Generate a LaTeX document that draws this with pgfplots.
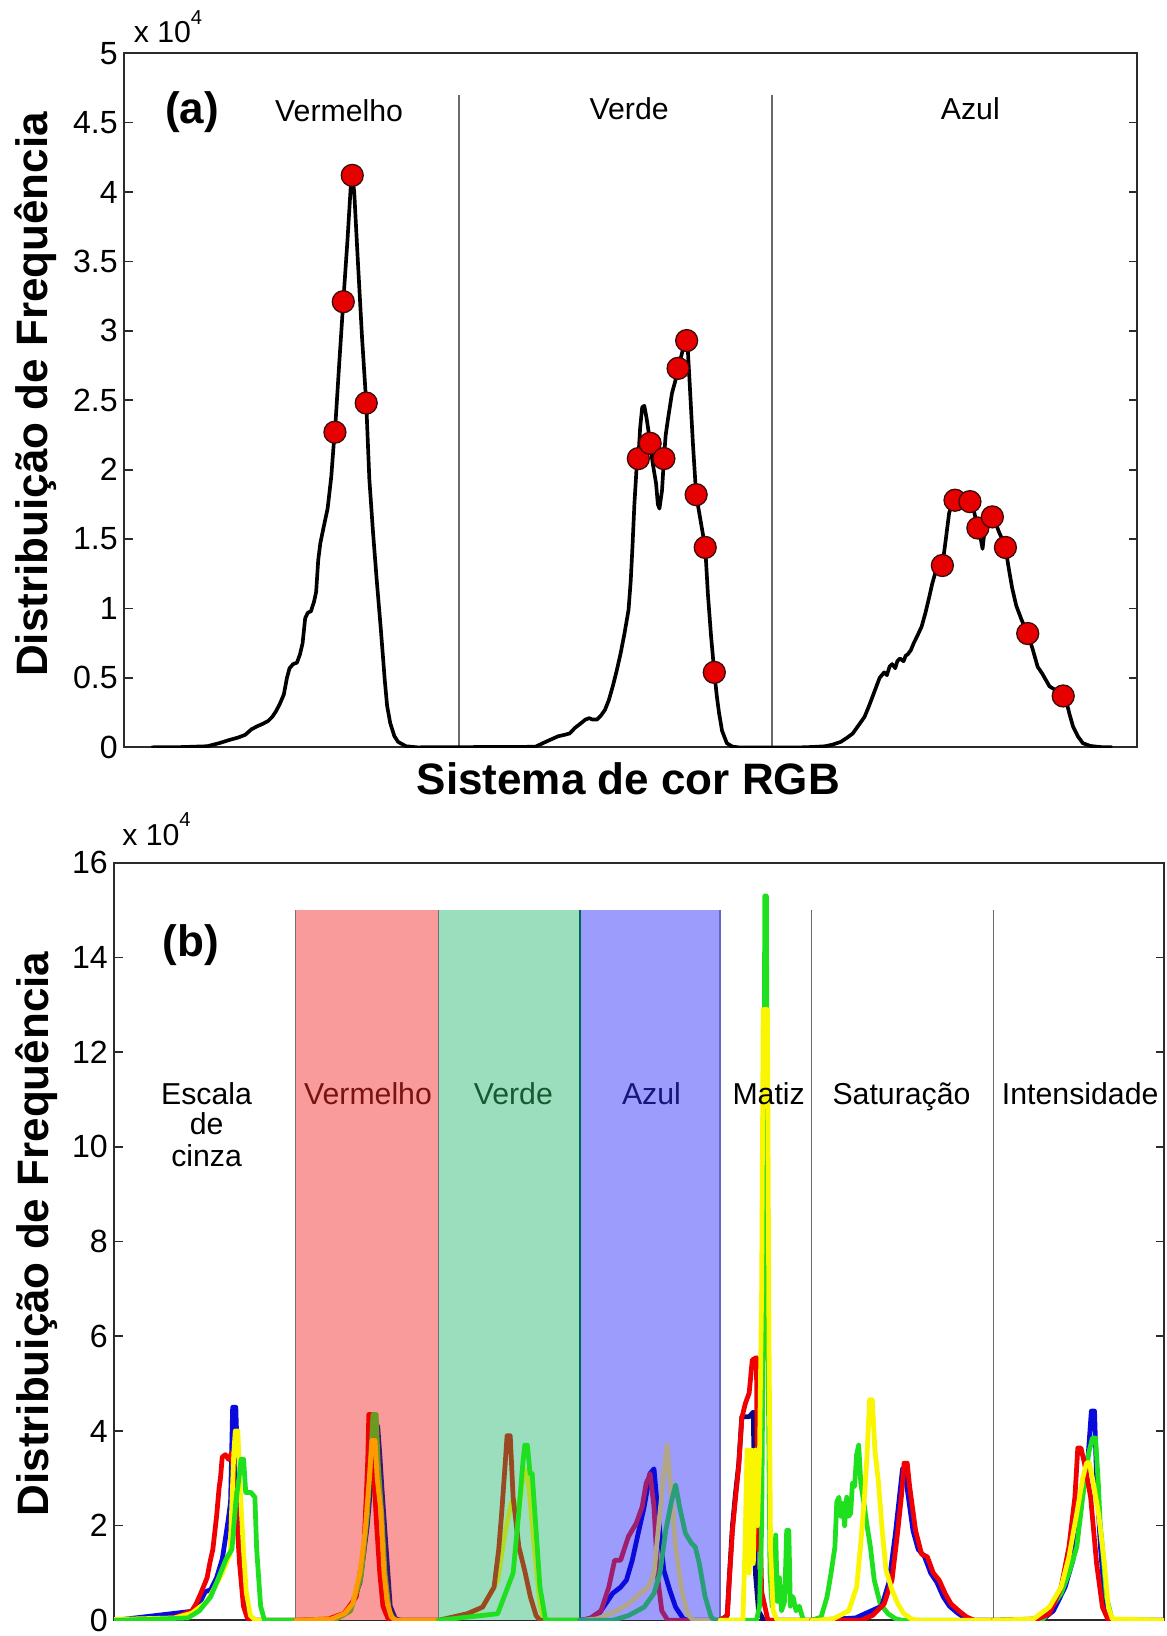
\documentclass[border=0pt]{standalone}
\usepackage{pgfplots}
\pgfplotsset{compat=1.18}
\usepackage{fontspec}
\setmainfont{Liberation Sans}
\definecolor{axcol}{HTML}{2B2B2B}
\definecolor{divcol}{HTML}{6A6A6A}
\definecolor{mkred}{HTML}{E60000}
\definecolor{mkedge}{HTML}{3A0A0A}
\definecolor{bandR}{HTML}{F99B9B}
\definecolor{bandG}{HTML}{9BDEBE}
\definecolor{bandB}{HTML}{9C9CFC}
\definecolor{cR}{HTML}{F00000}
\definecolor{cB}{HTML}{0A0ADC}
\definecolor{cNv}{HTML}{0A0A80}
\definecolor{cG}{HTML}{1EE01E}
\definecolor{cY}{HTML}{FAF500}
\definecolor{cO}{HTML}{FF9A00}
\definecolor{cOl}{HTML}{6B9A23}
\definecolor{cPu}{HTML}{3C1478}
\definecolor{cBr}{HTML}{9A4A22}
\definecolor{cYG}{HTML}{B0DC28}
\definecolor{cMa}{HTML}{A01E6E}
\definecolor{cTan}{HTML}{B2A68A}
\definecolor{cTe}{HTML}{2A9E78}
\definecolor{tR}{HTML}{7A1212}
\definecolor{tG}{HTML}{145A32}
\definecolor{tB}{HTML}{15157A}
\pgfplotsset{
  myaxis/.style={
    scale only axis, anchor=south west,
    axis line style={draw=axcol, line width=1.1pt},
    tick style={draw=axcol, line width=0.9pt},
    major tick length=0.16cm,
    tick align=inside,
    xtick=\empty,
    yticklabel style={font=\fontsize{17.5}{20}\selectfont, text=black, inner ysep=0pt},
    scaled y ticks=false,
  },
  hist/.style={line width=2.6pt, line join=round, line cap=round},
}
\begin{document}
\begin{tikzpicture}
\path[use as bounding box] (0,0) rectangle (22.36cm,31.36cm);
% ---------------- Panel (a)
\begin{axis}[myaxis,
  at={(2.38cm,17.034cm)}, width=19.42cm, height=13.306cm,
  xmin=119, xmax=1090, ymin=0, ymax=5,
  ytick={0,0.5,1,1.5,2,2.5,3,3.5,4,4.5,5},
  yticklabels={0,0.5,1,1.5,2,2.5,3,3.5,4,4.5,5},
  xlabel={Sistema de cor RGB},
  xlabel style={at={(axis description cs:0.4976,-0.068)}, anchor=base, font=\fontsize{24}{28}\selectfont\bfseries},
  ylabel={Distribuição de Frequência},
  ylabel style={at={(axis description cs:-0.0752,0.5085)}, anchor=base, font=\fontsize{24}{28}\selectfont\bfseries},
]
\addplot[divcol, line width=0.85pt] coordinates {(440,0) (440,4.7)};
\addplot[divcol, line width=0.85pt] coordinates {(740,0) (740,4.7)};
\addplot[black, line width=2pt, line join=round] coordinates {
(145,0) (175,0.002) (198.6,0.008) (210,0.03) (220.6,0.055) (228,0.07) (235,0.09) (241,0.13) (246,0.15) (252,0.17) (257,0.19) (261,0.22) (264.5,0.26) (268,0.31) (272,0.38) (275,0.5) (277.5,0.57) (281,0.6) (284.6,0.61) (287.5,0.67) (290,0.75) (292.5,0.93) (295,0.97) (298,0.98) (301,1.05) (303,1.12) (305,1.35) (307,1.47) (310,1.58) (314,1.72) (317.5,1.95) (320,2.2) (321,2.27) (325,2.75) (329,3.21) (333,3.65) (336,4.02) (337.6,4.12) (339.5,4.0) (343,3.5) (347,2.95) (351,2.48) (354,1.93) (357.5,1.55) (361,1.21) (365,0.85) (368.7,0.49) (371,0.3) (374,0.175) (378,0.08) (381.5,0.04) (389,0.008) (400,0) (513,0.004)
(524,0.043) (535,0.08) (541,0.09) (546,0.1) (551,0.14) (557,0.175) (561,0.2) (564.7,0.21) (568,0.2) (572.2,0.2) (576,0.23) (579.8,0.27) (583.5,0.34) (587.3,0.44) (591,0.55) (594.9,0.68) (598.5,0.82) (602.4,0.99) (604.5,1.2) (606.2,1.45) (608,1.75) (610,2.0) (611.8,2.08) (613.5,2.3) (615.5,2.45) (617.5,2.46) (619.5,2.38) (621.5,2.28) (623.1,2.19) (625.5,2.05) (628.8,1.9) (630.5,1.75) (632,1.72) (634.5,1.85) (636.3,2.08) (638,2.25) (640.1,2.36) (644,2.55) (647.6,2.65) (649.9,2.73) (654,2.85) (656.5,2.95) (658.5,2.96) (660.8,2.65) (664,2.2) (667.2,1.82) (671.5,1.63) (675.9,1.44) (678.5,1.1) (681.5,0.8) (684.6,0.54) (687,0.37) (689.1,0.25) (692,0.12) (696.6,0.03) (702,0.005) (708,0) (768.3,0)
(780,0.003) (790.9,0.008) (798,0.02) (806,0.04) (812,0.07) (817.3,0.1) (823,0.16) (828.6,0.22) (833,0.3) (838,0.4) (843,0.5) (847.4,0.54) (850,0.52) (852.5,0.58) (855,0.6) (858,0.57) (860,0.62) (862.5,0.64) (866,0.62) (868,0.66) (870,0.67) (873,0.7) (875.7,0.75) (879,0.8) (883.3,0.87) (887,0.97) (890.8,1.09) (893.5,1.18) (896.5,1.26) (900,1.29) (903.2,1.31) (906.5,1.5) (909.7,1.69) (912.5,1.75) (915.3,1.78) (919,1.8) (924,1.8) (929.6,1.77) (933.5,1.7) (937.2,1.58) (940,1.5) (941.7,1.43) (943,1.52) (946,1.6) (951.1,1.66) (954,1.62) (957.5,1.55) (960.5,1.5) (963.6,1.44) (967,1.28) (970,1.15) (974,1.02) (979,0.92) (985,0.82) (990,0.7) (994.5,0.58) (999,0.53) (1002,0.49) (1005.8,0.44) (1010,0.42) (1014,0.4) (1019,0.37) (1022,0.33) (1025,0.24) (1028.4,0.15) (1033,0.08) (1037.8,0.03) (1045,0.01) (1054.8,0.002) (1066,0)};
\addplot[only marks, mark=*, mark size=6pt, mark options={fill=mkred, draw=mkedge, line width=0.7pt}] coordinates {
(321,2.27) (329,3.21) (337.6,4.12) (351,2.48)
(611.8,2.08) (623.1,2.19) (636.3,2.08) (649.9,2.73) (658.1,2.93) (667.2,1.82) (675.9,1.44) (684.6,0.54)
(903.2,1.31) (915.3,1.78) (929.6,1.77) (937.2,1.58) (951.1,1.66) (963.6,1.44) (985,0.82) (1019,0.37)};
\end{axis}
% ---------------- Panel (b)
\begin{axis}[myaxis,
  at={(2.19cm,0.3cm)}, width=20.124cm, height=14.52cm,
  xmin=109.5, xmax=1115.7, ymin=0, ymax=16,
  ytick={0,2,4,6,8,10,12,14,16},
  yticklabels={0,2,4,6,8,10,12,14,16},
  ylabel={Distribuição de Frequência},
  ylabel style={at={(axis description cs:-0.0631,0.51)}, anchor=base, font=\fontsize{24}{28}\selectfont\bfseries},
]
\addplot[fill=bandR, draw=none] coordinates {(283.3,0) (283.3,15) (420.2,15) (420.2,0)} -- cycle;
\addplot[fill=bandG, draw=none] coordinates {(420.2,0) (420.2,15) (556,15) (556,0)} -- cycle;
\addplot[fill=bandB, draw=none] coordinates {(556,0) (556,15) (690,15) (690,0)} -- cycle;
\addplot[black!55, line width=0.85pt] coordinates {(283.3,0) (283.3,15)};
\addplot[black!55, line width=0.85pt] coordinates {(420.2,0) (420.2,15)};
\addplot[black!45!blue!60!green, line width=0.85pt] coordinates {(556,0) (556,15)};
\addplot[black!40!blue!60, line width=0.85pt] coordinates {(690,0) (690,15)};
\addplot[divcol, line width=0.85pt] coordinates {(777.8,0) (777.8,15)};
\addplot[divcol, line width=0.85pt] coordinates {(952.1,0) (952.1,15)};
% region 1: Escala de cinza
\addplot[hist, cB] coordinates {(110,0) (187.5,0.2) (196.6,0.6) (202,0.65) (207.6,0.9) (213.1,1.3) (218.6,2.1) (221,2.5) (223,4.5) (226,4.5) (228,3.0) (231.5,1.0) (235,0.5) (238.8,0.1) (242.5,0) (283,0)};
\addplot[hist, cR] coordinates {(110,0) (165.5,0.05) (175,0.12) (183.8,0.2) (188,0.35) (193,0.6) (198.5,0.9) (201,1.2) (204,1.5) (207.6,2.2) (210,2.8) (211.3,3.0) (213,3.45) (216,3.5) (219,3.4) (222.3,3.55) (224,3.0) (226,2.5) (229.6,1.2) (233.3,0.3) (237,0.05) (240.6,0) (283,0)};
\addplot[hist, cY] coordinates {(110,0.02) (167,0.05) (183.8,0.15) (198.5,0.4) (205.8,0.7) (213,1.0) (220.5,1.4) (222.3,2.5) (224,3.5) (225.5,4.0) (228,4.0) (229.6,3.0) (233.3,1.5) (236,0.6) (240,0.1) (245,0) (283,0)};
\addplot[hist, cG] coordinates {(110,0) (180,0.05) (191,0.2) (202,0.5) (209.5,0.9) (216.8,1.3) (222.3,1.5) (226,2.5) (229,3.0) (231,3.4) (233.5,3.4) (235.5,2.7) (240.6,2.7) (244.3,2.6) (246,1.5) (249.8,0.3) (253.5,0) (283,0)};
% region 2: Vermelho
\addplot[hist, cPu] coordinates {(283.3,0) (320,0.02) (335,0.2) (345,0.8) (352,2.0) (356,3.0) (359,4.1) (362,4.1) (364,3.5) (366,2.8) (370,1.55) (374,0.3) (379,0.03) (385,0) (420,0)};
\addplot[hist, cR] coordinates {(283.3,0) (315,0.03) (330,0.15) (341.5,0.5) (345,1.0) (348.5,1.4) (351,2.6) (352.5,3.4) (353.5,4.35) (356.5,4.35) (358.5,3.0) (361,2.0) (364,1.0) (367,0.3) (372,0.03) (378,0) (420,0)};
\addplot[hist, cOl] coordinates {(283.3,0) (322,0.02) (336,0.2) (346,0.9) (352,2.2) (355.5,3.5) (357.5,4.35) (360.5,4.35) (362.5,3.3) (366,2.2) (369,1.0) (373,0.2) (378,0) (420,0)};
\addplot[hist, cO] coordinates {(283.3,0) (318,0.03) (330.5,0.15) (338,0.35) (345,1.0) (350,1.9) (354,3.0) (356.5,3.8) (359.5,3.8) (361.5,3.0) (365,2.3) (368,1.0) (371,0.4) (375,0.07) (380,0) (420,0)};
% region 3: Verde
\addplot[hist, cYG] coordinates {(420.2,0) (444,0.07) (462.5,0.28) (477,0.85) (484.5,1.9) (490,2.5) (493.6,2.3) (499,2.6) (502,3.2) (505,3.1) (507,2.8) (512,1.55) (517.5,0.35) (521,0) (556,0)};
\addplot[hist, cBr] coordinates {(420.2,0) (447.8,0.14) (462.5,0.28) (473.5,0.7) (478,1.5) (480.8,2.26) (484,3.25) (486,3.9) (489,3.9) (491.8,2.6) (497.3,1.55) (502.8,1.06) (508.3,0.5) (513.8,0.1) (517.5,0) (556,0)};
\addplot[hist, cG] coordinates {(420.2,0) (477,0.14) (491.8,1.0) (497.3,2.3) (501,3.3) (503,3.7) (505.5,3.7) (508,3.1) (510,3.1) (513.8,1.9) (517.5,0.7) (523,0) (556,0)};
% region 4: Azul
\addplot[hist, cB] coordinates {(556,0) (572,0.07) (587.2,0.57) (594.8,0.7) (600.4,0.85) (606,1.27) (611.7,1.84) (617.4,2.4) (623,3.1) (626.8,3.2) (630.6,2.26) (636.2,1.06) (641.9,0.64) (647.5,0.28) (655,0.03) (660,0) (690,0)};
\addplot[hist, cMa] coordinates {(556,0) (564.6,0.03) (576,0.2) (583.5,0.7) (589.1,1.27) (594.8,1.27) (602.3,1.77) (609.8,2.05) (615.5,2.4) (619.3,2.9) (621.5,3.0) (623,3.1) (626.8,2.4) (630.6,0.85) (634.3,0.2) (640,0) (690,0)};
\addplot[hist, cTan] coordinates {(556,0) (572,0.03) (591,0.2) (602.3,0.35) (613.6,0.57) (621.2,0.7) (626.8,1.0) (632.5,2.26) (636.2,3.1) (639.3,3.7) (643.8,2.6) (647.5,1.55) (653.2,0.64) (658.9,0.14) (664.5,0) (690,0)};
\addplot[hist, cTe] coordinates {(556,0) (587.2,0) (602.3,0.1) (617.4,0.28) (626.8,0.57) (632.5,1.0) (638.1,1.9) (643.8,2.54) (647.5,2.86) (651.3,2.4) (656.9,1.84) (662.6,1.63) (666.4,1.55) (670.2,1.2) (675.8,0.5) (681.5,0.07) (685.2,0) (690,0)};
% region 5: Matiz
\addplot[hist, cNv] coordinates {(690,0) (697,0.1) (699,0.9) (702,2.0) (705,2.7) (708,3.3) (711,4.3) (714,4.3) (718,4.3) (722,4.4) (724,1.0) (727,0.2) (732,0) (778,0)};
\addplot[hist, cR] coordinates {(690,0) (694,0.05) (697,0.1) (699,0.85) (702,1.9) (705,2.6) (708,3.25) (711,4.28) (714.5,4.59) (718,4.8) (721,5.5) (725,5.55) (726.5,1.5) (728,2.5) (730,0.6) (733,0.3) (736,0) (778,0)};
\addplot[hist, cG] coordinates {(690,0) (725,0) (728,0.3) (730,2.0) (732,8.0) (733,15.3) (734.5,15.3) (736,6.0) (738,1.0) (740,0.3) (742,1.2) (743.5,1.8) (745,0.4) (747,0.9) (749,0.2) (752,0.4) (754,1.9) (756,1.9) (757.5,0.3) (760,0.5) (763,0.2) (766,0.3) (770,0) (778,0)};
\addplot[hist, cY] coordinates {(690,0) (712,0) (714,1.5) (716,3.6) (718,1.0) (720,3.6) (722,1.2) (724,3.6) (726,2.0) (728,3.6) (730,7) (731.5,12.9) (735.5,12.9) (737,6) (738.5,1.5) (741,0.2) (745,0) (778,0)};
% region 6: Saturacao
\addplot[hist, cG] coordinates {(778,0) (787,0.07) (792.7,0.5) (796.5,1.0) (800.2,1.55) (802,2.5) (804,2.6) (806,2.2) (807.8,2.47) (809.5,2.0) (811.5,2.6) (813.5,2.2) (815.3,2.26) (817,2.9) (819.1,2.83) (821,3.5) (823,3.7) (825,2.9) (828.5,2.4) (831,2.0) (834.2,1.55) (837.9,0.85) (843.6,0.35) (851.1,0.14) (858.7,0.03) (865,0) (952,0)};
\addplot[hist, cB] coordinates {(778,0) (820,0.05) (845,0.3) (852,0.8) (858,1.8) (862,2.6) (865,3.2) (867,3.2) (870,2.7) (875,1.9) (880,1.5) (886,1.35) (892,1.0) (898,0.8) (904,0.5) (910,0.3) (918,0.15) (925,0.05) (932,0) (952,0)};
\addplot[hist, cR] coordinates {(778,0) (824.7,0) (836,0.1) (847.4,0.35) (854.9,0.85) (860.5,1.9) (864.3,2.7) (866.5,3.32) (869.5,3.32) (871.8,2.83) (877.5,1.9) (883.2,1.4) (888.8,1.34) (894.5,1.0) (900.1,0.85) (905.8,0.57) (911.4,0.35) (919,0.2) (926.5,0.07) (934,0) (952,0)};
\addplot[hist, cY] coordinates {(778,0) (798.3,0.03) (813.4,0.2) (821,0.7) (824.7,1.55) (828.5,2.6) (831,3.5) (833.5,4.66) (836,4.66) (838.5,3.6) (841.7,2.97) (845.5,1.9) (849.2,1.06) (854.9,0.64) (860.5,0.35) (866.2,0.14) (873.7,0.03) (880,0) (952,0)};
% region 7: Intensidade
\addplot[hist, cB] coordinates {(952.1,0) (998.2,0) (1009.5,0.2) (1020.8,0.7) (1028.3,1.27) (1034,2.26) (1039.6,3.1) (1043,3.5) (1046,4.42) (1049,4.42) (1051,3.0) (1054.7,1.55) (1058.5,0.5) (1064.1,0) (1115,0)};
\addplot[hist, cG] coordinates {(952.1,0) (1000,0.03) (1017,0.57) (1024.5,1.0) (1032,1.55) (1037.7,2.6) (1043.4,3.53) (1047,3.85) (1050,3.85) (1052.8,2.83) (1054.5,2.0) (1056.6,1.55) (1060.4,0.5) (1066,0) (1115,0)};
\addplot[hist, cR] coordinates {(952.1,0) (994.4,0.03) (1005.7,0.14) (1017,0.7) (1024.5,1.55) (1030.2,2.6) (1033,3.64) (1036,3.64) (1039.6,3.3) (1042,3.0) (1045.3,2.6) (1051,1.2) (1056.6,0.28) (1062.2,0) (1115,0)};
\addplot[hist, cY] coordinates {(952.1,0) (990.6,0.03) (1005.7,0.28) (1017,0.7) (1024.5,1.34) (1032,2.26) (1037.7,3.0) (1041.5,3.33) (1044,3.33) (1047.1,3.0) (1052.8,2.26) (1058.5,1.2) (1062.2,0.28) (1066,0.03) (1100,0.01) (1115,0)};
\end{axis}
% ---------------- texts
\node[anchor=base west, font=\fontsize{16.5}{18}\selectfont] at (2.44cm,30.54cm) {x 10\raisebox{0.6em}{\fontsize{11}{12}\selectfont 4}};
\node[anchor=base west, font=\fontsize{24}{28}\selectfont\bfseries] at (3.04cm,29.0cm) {(a)};
\node[anchor=base, font=\fontsize{16.5}{19}\selectfont] at (6.5cm,29.028cm) {Vermelho};
\node[anchor=base, font=\fontsize{16.5}{19}\selectfont] at (12.06cm,29.06cm) {Verde};
\node[anchor=base, font=\fontsize{16.5}{19}\selectfont] at (18.6cm,29.06cm) {Azul};
\node[anchor=base west, font=\fontsize{16.5}{18}\selectfont] at (2.22cm,15.16cm) {x 10\raisebox{0.6em}{\fontsize{11}{12}\selectfont 4}};
\node[anchor=base west, font=\fontsize{24}{28}\selectfont\bfseries] at (3.0cm,13.02cm) {(b)};
\node[anchor=base, font=\fontsize{16.5}{19}\selectfont] at (3.96cm,10.188cm) {Escala};
\node[anchor=base, font=\fontsize{16.5}{19}\selectfont] at (3.96cm,9.612cm) {de};
\node[anchor=base, font=\fontsize{16.5}{19}\selectfont] at (3.96cm,9.006cm) {cinza};
\node[anchor=base, font=\fontsize{16.5}{19}\selectfont, text=tR] at (7.054cm,10.188cm) {Vermelho};
\node[anchor=base, font=\fontsize{16.5}{19}\selectfont, text=tG] at (9.84cm,10.188cm) {Verde};
\node[anchor=base, font=\fontsize{16.5}{19}\selectfont, text=tB] at (12.488cm,10.188cm) {Azul};
\node[anchor=base, font=\fontsize{16.5}{19}\selectfont] at (14.734cm,10.188cm) {Matiz};
\node[anchor=base, font=\fontsize{16.5}{19}\selectfont] at (17.28cm,10.188cm) {Saturação};
\node[anchor=base, font=\fontsize{16.5}{19}\selectfont] at (20.706cm,10.188cm) {Intensidade};
\end{tikzpicture}
\end{document}
